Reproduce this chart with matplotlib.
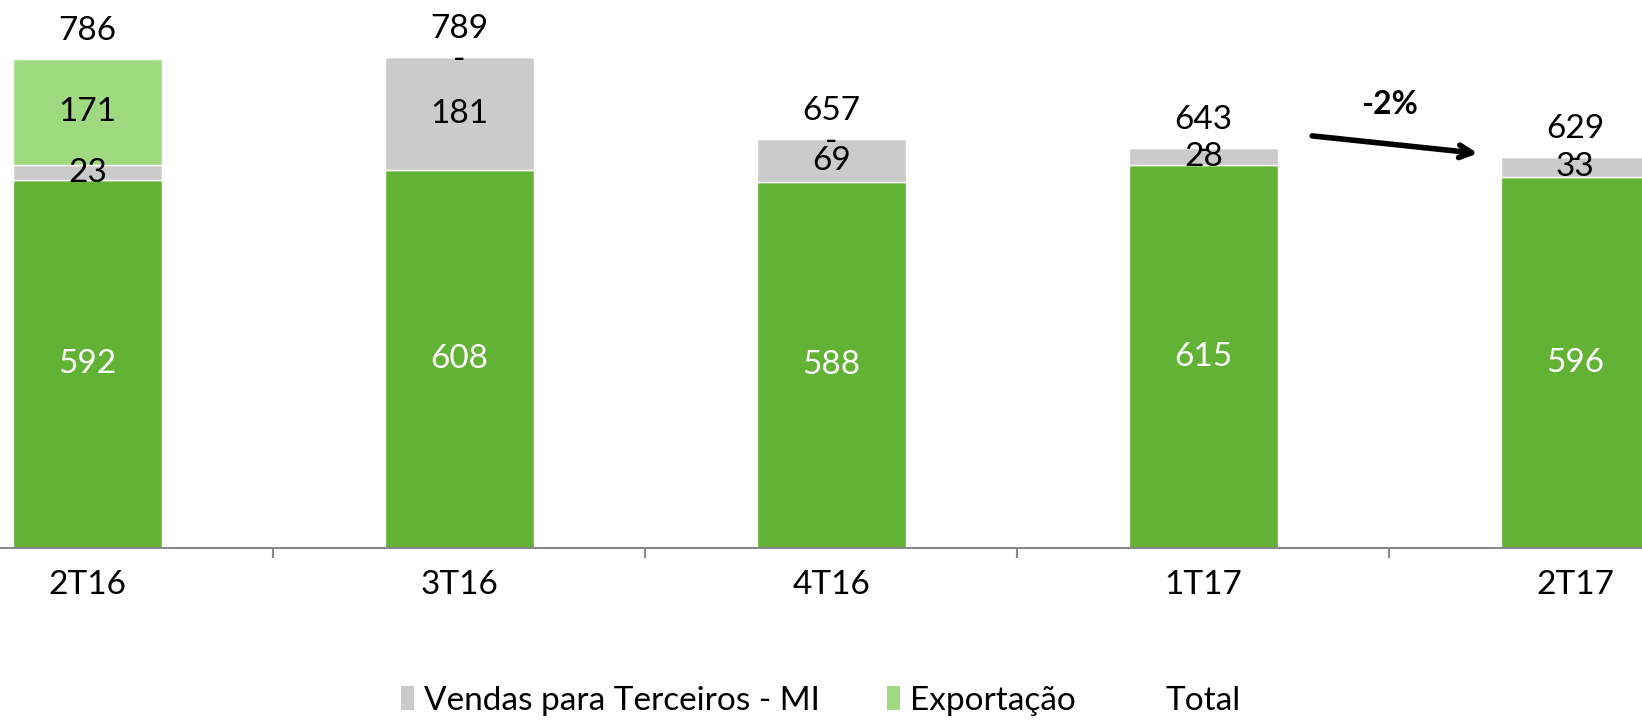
import matplotlib
matplotlib.use("Agg")
import matplotlib.pyplot as plt
from matplotlib.patches import Patch
import numpy as np

categories = ["2T16", "3T16", "4T16", "1T17", "2T17"]
mercado = [592, 608, 588, 615, 596]
vendas_mi = [23, 181, 69, 28, 33]
exportacao = [171, 0, 0, 0, 0]
totals = [786, 789, 657, 643, 629]
variation_label = "-2%"

plt.rcParams['font.family'] = ['Lato', 'DejaVu Sans']
FS = 24

c_dark = "#62B236"
c_gray = "#CBCBCB"
c_light = "#A0DA80"

fig = plt.figure(figsize=(16.42, 7.21), dpi=100)
ax = fig.add_axes([0, 0.24, 1, 0.76])

x = np.arange(len(categories))
w = 0.4
ax.bar(x, mercado, w, color=c_dark, edgecolor='white', linewidth=1)
bottom2 = np.array(mercado)
ax.bar(x, vendas_mi, w, bottom=bottom2, color=c_gray, edgecolor='white', linewidth=1)
bottom3 = bottom2 + np.array(vendas_mi)
ax.bar(x, exportacao, w, bottom=bottom3, color=c_light, edgecolor='white', linewidth=1)

for i in range(len(categories)):
    ax.text(x[i], mercado[i] / 2, str(mercado[i]), ha='center', va='center',
            color='white', fontsize=FS)
    ax.text(x[i], bottom2[i] + vendas_mi[i] / 2, str(vendas_mi[i]), ha='center',
            va='center', color='black', fontsize=FS)
    lab = str(exportacao[i]) if exportacao[i] else "-"
    yy = bottom3[i] + exportacao[i] / 2 if exportacao[i] else bottom3[i] - 5
    ax.text(x[i], yy, lab, ha='center', va='center', color='black', fontsize=FS)
    ax.text(x[i], totals[i] + 45, str(totals[i]), ha='center', va='center',
            color='black', fontsize=FS)

ax.set_xlim(-0.235, 4.179)
ax.set_ylim(0, 881)
for s in ['top', 'right', 'left']:
    ax.spines[s].set_visible(False)
ax.spines['bottom'].set_color('#898989')
ax.spines['bottom'].set_linewidth(1.5)
ax.set_yticks([])
ax.set_xticks(x)
ax.set_xticklabels(categories, fontsize=FS)
ax.set_xticks(x[:-1] + 0.5, minor=True)
ax.tick_params(axis='x', which='major', length=0, pad=16)
ax.tick_params(axis='x', which='minor', length=7, width=1.5, color='#898989')

# variation arrow
ax.annotate("", xy=(3.745, 634), xytext=(3.285, 663),
            arrowprops=dict(arrowstyle='->,head_length=0.9,head_width=0.45',
                            lw=4, color='black'))
ax.text(3.50, 713, variation_label, ha='center', va='center', fontsize=FS - 1,
        fontweight='bold')

handles = [Patch(facecolor=c_gray, edgecolor='none'),
           Patch(facecolor=c_light, edgecolor='none'),
           Patch(facecolor='none', edgecolor='none')]
labels = ["Vendas para Terceiros - MI", "Exportação", "Total"]
fig.legend(handles, labels, loc='center', bbox_to_anchor=(0.5, 0.028), ncol=3,
           frameon=False, fontsize=FS, handlelength=0.4, handleheight=0.7,
           handletextpad=0.3, columnspacing=2.0)

fig.savefig("out.png", dpi=100)
